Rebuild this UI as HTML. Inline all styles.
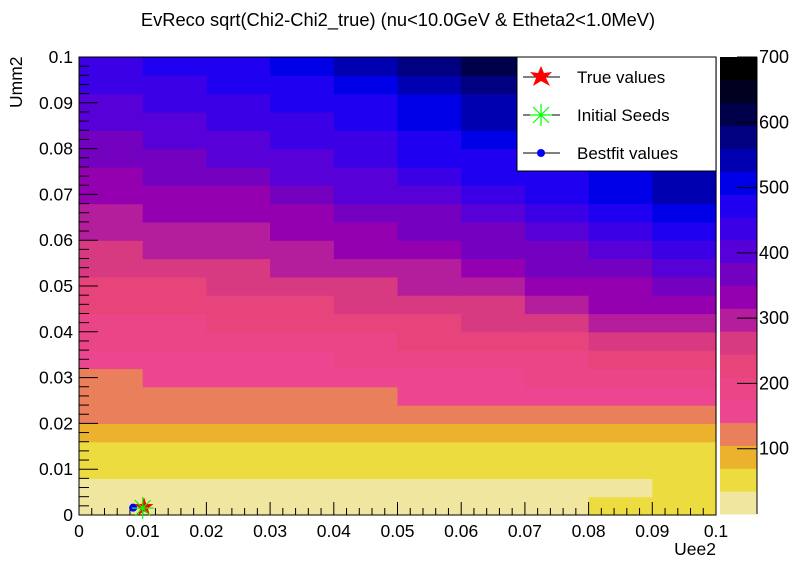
<!DOCTYPE html>
<html><head><meta charset="utf-8"><style>
html,body{margin:0;padding:0;background:#fff;}
svg{display:block;font-family:"Liberation Sans",sans-serif;}
</style></head><body>
<svg id="chart" width="796" height="572" viewBox="0 0 796 572" xmlns="http://www.w3.org/2000/svg">
<rect width="796" height="572" fill="#fff"/>
<text x="398" y="26" text-anchor="middle" font-size="18.3" fill="#000">EvReco sqrt(Chi2-Chi2_true) (nu&lt;10.0GeV &amp; Etheta2&lt;1.0MeV)</text>
<g id="cells"></g>
<g id="axes"></g>
<g id="palette"></g>
<text transform="translate(22,108) rotate(-90)" font-size="17.5" fill="#000">Umm2</text>
<text x="716" y="555" text-anchor="end" font-size="17.5" fill="#000">Uee2</text>
<g id="markers"></g>
<g>
<rect x="517" y="57" width="199" height="114" fill="#fff" stroke="#000" stroke-width="1"/>
<g>
<line x1="523" y1="77" x2="560" y2="77" stroke="#000"/>
<polygon points="541,66 544,73 552,72 546,78 550,86 541,81 533,86 536,78 530,72 538,73" fill="#f00"/>
<text x="577" y="83" font-size="17">True values</text></g>
<g>
<line x1="523" y1="115" x2="560" y2="115" stroke="#000"/>
<g stroke="#0f0" stroke-width="1.2"><line x1="541" y1="104" x2="541" y2="126"/><line x1="530" y1="115" x2="552" y2="115"/><line x1="533" y1="107" x2="549" y2="123"/><line x1="549" y1="107" x2="533" y2="123"/></g>
<text x="577" y="121" font-size="17">Initial Seeds</text></g>
<g>
<line x1="523" y1="153" x2="560" y2="153" stroke="#000"/>
<circle cx="541" cy="153" r="4" fill="#00f"/>
<text x="577" y="159" font-size="17">Bestfit values</text></g>
</g>
</svg>
<script>
// Grid: columns x = 0..0.1 (10 bins), rows y = 0..0.1 (25 bins, bottom to top)
const xEdges = [0,0.01,0.02,0.03,0.04,0.05,0.06,0.07,0.08,0.09,0.1];
const yEdges = [0,0.004,0.008,0.012,0.016,0.020,0.024,0.028,0.032,0.036,0.040,0.044,0.048,0.052,0.056,0.060,0.064,0.068,0.072,0.076,0.080,0.084,0.088,0.092,0.096,0.1];
const row00=[12,12,12,14,15,19,24,33,37,42];
const row01=[27,27,27,28,29,32,33,34,34,45];
const row02=[44,44,44,45,46,49,52,56,58,60];
const row03=[61,61,61,65,68,69,69,68,68,68];
const row04=[82,83,84,88,91,95,100,103,104,104];
const row05=[106,108,110,113,116,119,124,128,133,138];
const row06=[124,127,130,134,138,142,147,152,161,170];
const row07=[139,144,149,155,160,165,170,175,189,203];
const row08=[159,162,166,174,183,189,194,198,217,235];
const row09=[177,182,187,196,205,213,220,227,248,269];
const row10=[198,204,210,219,228,239,251,262,283,305];
const row11=[217,222,227,239,251,264,278,292,315,338];
const row12=[237,241,245,259,273,287,301,315,343,371];
const row13=[257,262,268,282,296,312,331,350,375,400];
const row14=[275,282,289,304,319,338,359,380,410,440];
const row15=[292,299,306,324,341,361,383,405,434,463];
const row16=[310,317,324,344,363,384,407,430,461,492];
const row17=[327,334,341,363,386,409,432,455,490,525];
const row18=[345,354,362,385,408,433,458,483,517,552];
const row19=[364,375,385,408,431,456,484,511,541,571];
const row20=[381,392,402,426,451,478,509,539,565,591];
const row21=[399,410,420,443,466,496,531,567,589,610];
const row22=[416,427,437,461,485,517,556,595,613,631];
const row23=[433,444,455,483,511,545,584,623,638,653];
const row24=[448,460,472,500,528,564,608,651,663,674];
const zRows=[row00,row01,row02,row03,row04,row05,row06,row07,row08,row09,row10,row11,row12,row13,row14,row15,row16,row17,row18,row19,row20,row21,row22,row23,row24];
const xTicks=[0,0.01,0.02,0.03,0.04,0.05,0.06,0.07,0.08,0.09,0.1];
const xTickLabels=["0","0.01","0.02","0.03","0.04","0.05","0.06","0.07","0.08","0.09","0.1"];
const yTicks=[0,0.01,0.02,0.03,0.04,0.05,0.06,0.07,0.08,0.09,0.1];
const yTickLabels=["0","0.01","0.02","0.03","0.04","0.05","0.06","0.07","0.08","0.09","0.1"];
const zTicks=[100,200,300,400,500,600,700];
const zMin=0, zMax=700, nLevels=20;
const levelColors=["#f0e6a0","#ecdc40","#ecb22e","#ea7f5c","#ec4690","#ea4586","#e8447c","#d83a82","#b41d9c","#9400b0","#7400c0","#5800d8","#3c00e6","#2000f0","#0000e8","#0000b0","#000080","#00004a","#000020","#000000"];
const trueX=[0.0102], trueY=[0.0017];
const seedX=[0.0100], seedY=[0.0015];
const bestX=[0.0085], bestY=[0.0016];

const NS="http://www.w3.org/2000/svg";
const X0=79,X1=716,Y0=515,Y1=57;
function sx(v){return X0+(v-0)/(0.1-0)*(X1-X0);}
function sy(v){return Y0-(v-0)/(0.1-0)*(Y0-Y1);}
function szc(v){return 514-(v-zMin)/(zMax-zMin)*(514-57);}
function colorOf(z){let k=Math.floor((z-zMin)/((zMax-zMin)/nLevels));if(k<0)k=0;if(k>=nLevels)k=nLevels-1;return levelColors[k];}
function mk(tag,attrs,parent){const e=document.createElementNS(NS,tag);for(const k in attrs)e.setAttribute(k,attrs[k]);parent.appendChild(e);return e;}

const cells=document.getElementById('cells');
zRows.forEach((row,j)=>{row.forEach((z,i)=>{
  const x=sx(xEdges[i]),x2=sx(xEdges[i+1]),y=sy(yEdges[j+1]),y2=sy(yEdges[j]);
  const r=mk('rect',{x:x,y:y,width:x2-x+0.6,height:y2-y+0.6,fill:colorOf(z)},cells);
  
  
});});

const axes=document.getElementById('axes');
mk('rect',{x:X0,y:Y1,width:X1-X0,height:Y0-Y1,fill:'none',stroke:'#000','stroke-width':1},axes);
for(let i=0;i<xTicks.length;i++){
  const x=sx(xTicks[i]);
  mk('line',{x1:x,y1:Y0,x2:x,y2:Y0-13,stroke:'#000'},axes);
  const t=mk('text',{x:x,y:Y0+22,'text-anchor':'middle','font-size':17.5},axes);
  t.textContent=xTickLabels[i];
  
  
  if(i<xTicks.length-1){for(let m=1;m<5;m++){const xm=sx(xTicks[i]+(xTicks[i+1]-xTicks[i])*m/5);mk('line',{x1:xm,y1:Y0,x2:xm,y2:Y0-7,stroke:'#000'},axes);}}
}
for(let i=0;i<yTicks.length;i++){
  const y=sy(yTicks[i]);
  mk('line',{x1:X0,y1:y,x2:X0+19,y2:y,stroke:'#000'},axes);
  const t=mk('text',{x:X0-6,y:y+6,'text-anchor':'end','font-size':17.5},axes);
  t.textContent=yTickLabels[i];
  
  
  if(i<yTicks.length-1){for(let m=1;m<5;m++){const ym=sy(yTicks[i]+(yTicks[i+1]-yTicks[i])*m/5);mk('line',{x1:X0,y1:ym,x2:X0+10,y2:ym,stroke:'#000'},axes);}}
}

const pal=document.getElementById('palette');
for(let k=0;k<nLevels;k++){
  const zlo=zMin+k*(zMax-zMin)/nLevels, zhi=zMin+(k+1)*(zMax-zMin)/nLevels;
  const r=mk('rect',{x:720,y:szc(zhi),width:37,height:szc(zlo)-szc(zhi)+0.5,fill:levelColors[k]},pal);
  
  
}
mk('line',{x1:757,y1:57,x2:757,y2:514,stroke:'#000'},pal);
zTicks.forEach(z=>{const y=szc(z);
  mk('line',{x1:737,y1:y,x2:757,y2:y,stroke:'#000'},pal);
  const t=mk('text',{x:759,y:y+6,'font-size':18},pal);
  t.textContent=String(z);
  
  
});

const mg=document.getElementById('markers');
bestX.forEach((v,i)=>{const c=mk('circle',{cx:sx(v),cy:sy(bestY[i]),r:4,fill:'#00f'},mg);
  
  });
trueX.forEach((v,i)=>{const cx=sx(v),cy=sy(trueY[i]);
  const p=[];for(let k=0;k<10;k++){const a=-Math.PI/2+k*Math.PI/5,r=k%2?4:10;p.push((cx+r*Math.cos(a)).toFixed(1)+','+(cy+r*Math.sin(a)).toFixed(1));}
  const s=mk('polygon',{points:p.join(' '),fill:'#f00'},mg);
  
  });
seedX.forEach((v,i)=>{const cx=sx(v),cy=sy(seedY[i]);
  const g=mk('g',{stroke:'#0f0','stroke-width':1.2},mg);
  
  
  [[0,-11,0,11],[-11,0,11,0],[-8,-8,8,8],[8,-8,-8,8]].forEach(d=>mk('line',{x1:cx+d[0],y1:cy+d[1],x2:cx+d[2],y2:cy+d[3]},g));});
</script>
</body></html>
